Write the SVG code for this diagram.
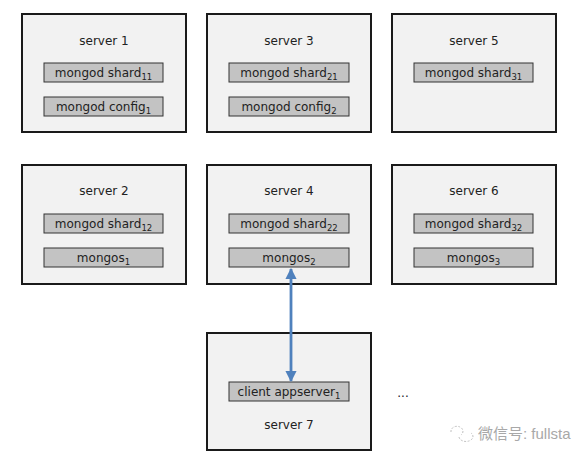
<svg xmlns="http://www.w3.org/2000/svg" width="573" height="453" viewBox="0 0 573 453">
<style>
.srv{fill:#f2f2f2;stroke:#1a1a1a;stroke-width:2}
.inn{fill:#c3c3c3;stroke:#333;stroke-width:1}
text{font-family:"DejaVu Sans",Verdana,sans-serif;font-size:12px;fill:#222;text-anchor:middle}
.sub{font-size:8.5px}
.wm{font-family:"Liberation Sans","Noto Sans CJK SC",sans-serif;font-size:15px;fill:#a8a8a8;text-anchor:start}
</style>
<defs>
<marker id="ah" viewBox="0 0 10 10" refX="9" refY="5" markerWidth="4" markerHeight="4" orient="auto-start-reverse" markerUnits="strokeWidth">
<path d="M0,0 L10,5 L0,10 z" fill="#4f81bd"/>
</marker>
</defs>
<rect width="573" height="453" fill="#ffffff"/>
<g id="server1">
<rect class="srv" x="22" y="14" width="164" height="118"/>
<text x="104" y="45">server 1</text>
<rect class="inn" x="44" y="63" width="119" height="19"/>
<text x="103.5" y="77">mongod shard<tspan class="sub" dy="3">11</tspan></text>
<rect class="inn" x="44" y="97" width="119" height="19"/>
<text x="103.5" y="111">mongod config<tspan class="sub" dy="3">1</tspan></text>
</g>
<g id="server3">
<rect class="srv" x="207" y="14" width="164" height="118"/>
<text x="289" y="45">server 3</text>
<rect class="inn" x="229" y="63" width="120" height="19"/>
<text x="289" y="77">mongod shard<tspan class="sub" dy="3">21</tspan></text>
<rect class="inn" x="229" y="97" width="120" height="19"/>
<text x="289" y="111">mongod config<tspan class="sub" dy="3">2</tspan></text>
</g>
<g id="server5">
<rect class="srv" x="392" y="14" width="164" height="118"/>
<text x="474" y="45">server 5</text>
<rect class="inn" x="414" y="63" width="119" height="19"/>
<text x="473.5" y="77">mongod shard<tspan class="sub" dy="3">31</tspan></text>
</g>
<g id="server2">
<rect class="srv" x="22" y="165" width="164" height="119"/>
<text x="104" y="195">server 2</text>
<rect class="inn" x="44" y="214" width="119" height="19"/>
<text x="103.5" y="228">mongod shard<tspan class="sub" dy="3">12</tspan></text>
<rect class="inn" x="44" y="248" width="119" height="19"/>
<text x="103.5" y="262">mongos<tspan class="sub" dy="3">1</tspan></text>
</g>
<g id="server4">
<rect class="srv" x="207" y="165" width="164" height="119"/>
<text x="289" y="195">server 4</text>
<rect class="inn" x="229" y="214" width="120" height="19"/>
<text x="289" y="228">mongod shard<tspan class="sub" dy="3">22</tspan></text>
<rect class="inn" x="229" y="248" width="120" height="19"/>
<text x="289" y="262">mongos<tspan class="sub" dy="3">2</tspan></text>
</g>
<g id="server6">
<rect class="srv" x="392" y="165" width="164" height="119"/>
<text x="474" y="195">server 6</text>
<rect class="inn" x="414" y="214" width="119" height="19"/>
<text x="473.5" y="228">mongod shard<tspan class="sub" dy="3">32</tspan></text>
<rect class="inn" x="414" y="248" width="119" height="19"/>
<text x="473.5" y="262">mongos<tspan class="sub" dy="3">3</tspan></text>
</g>
<g id="server7">
<rect class="srv" x="207" y="333" width="164" height="117"/>
<rect class="inn" x="229" y="382" width="120" height="19"/>
<text x="289" y="396">client appserver<tspan class="sub" dy="3">1</tspan></text>
<text x="289" y="429">server 7</text>
</g>
<g id="more">
<text x="403" y="397">...</text>
</g>
<g id="connectors">
<line x1="291" y1="269" x2="291" y2="381" stroke="#4f81bd" stroke-width="2.8" marker-start="url(#ah)" marker-end="url(#ah)"/>
</g>
<g id="watermark">
<path d="M451,432 a6,5 0 1 1 10,3 M459,437 a7,5 0 1 0 12,-4" fill="none" stroke="#c0c0c0" stroke-width="1" stroke-dasharray="2,1.5"/>
<text class="wm" x="478" y="439">微信号: fullsta</text>
</g>
</svg>
